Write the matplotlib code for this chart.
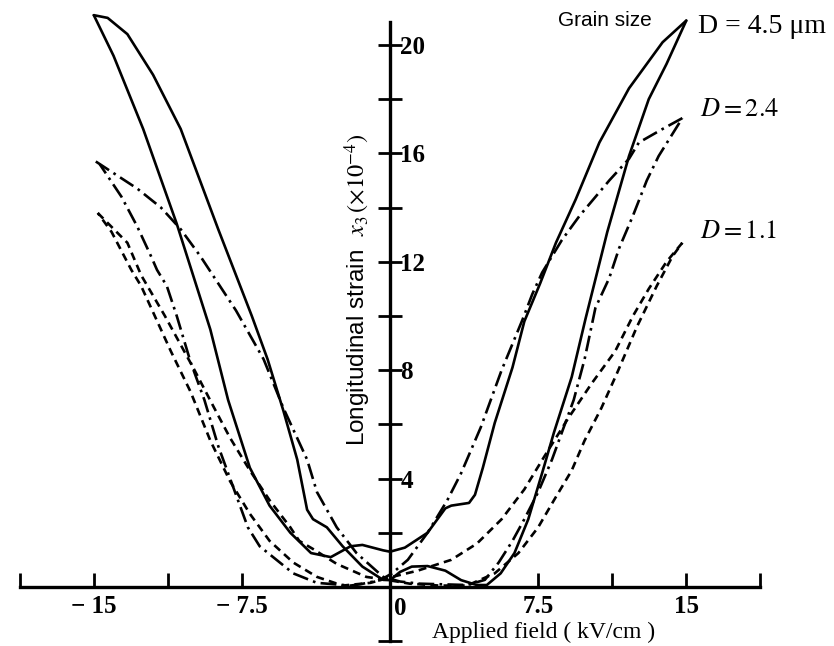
import matplotlib
matplotlib.use("Agg")
import matplotlib.pyplot as plt

plt.rcParams['font.family'] = ['Liberation Serif', 'DejaVu Serif']
plt.rcParams['mathtext.fontset'] = 'stix'

# D = 4.5 um (solid): field going down (+15 -> -15) and going up (-15 -> +15)
d45_down_x = [15.0, 13.8, 12.1, 10.6, 9.4, 8.4, 7.6, 6.8, 6.2, 5.3, 4.7, 4.3, 4.0, 3.1, 2.8, 1.9,
              0.75, 0.0, -0.35, -1.4, -2.0, -3.0, -4.0, -5.05, -6.1, -7.1, -8.2, -9.1, -10.8,
              -12.5, -14.0, -15.0]
d45_down_y = [20.9, 20.1, 18.4, 16.4, 14.3, 12.7, 11.2, 9.8, 8.1, 6.05, 4.4, 3.4, 3.1, 3.0, 2.9, 2.0,
              1.45, 1.3, 1.35, 1.55, 1.5, 1.1, 1.25, 2.0, 3.0, 4.4, 6.9, 9.5, 13.4,
              16.9, 19.6, 21.1]
d45_up_x = [-15.0, -14.3, -13.3, -12.0, -10.6, -8.7, -7.0, -6.2, -5.4, -4.7, -4.2, -3.9, -3.2, -2.4,
            -1.4, -0.35, 0.0, 0.5, 1.1, 1.9, 2.8, 3.6, 4.4, 4.9, 5.6, 6.3, 7.0, 7.7, 8.3, 9.2, 9.9,
            11.0, 12.1, 13.1, 14.0, 15.0]
d45_up_y = [21.1, 21.0, 20.4, 18.9, 16.9, 13.2, 10.0, 8.4, 6.5, 4.7, 2.85, 2.5, 2.2, 1.5,
            0.75, 0.26, 0.25, 0.55, 0.75, 0.77, 0.6, 0.25, 0.07, 0.07, 0.5, 1.25, 2.5, 4.2, 5.7, 7.75, 9.9,
            13.1, 15.9, 18.0, 19.3, 20.9]

# D = 2.4 (dash-dot)
d24_up_x = [-14.9, -12.8, -11.6, -10.6, -9.6, -7.8, -6.4, -5.4, -4.2, -3.7, -2.7, -1.7, -0.35, 0.5,
            1.5, 2.5, 3.9, 4.8, 5.5, 6.2, 6.8, 7.5, 8.2, 8.8, 9.3, 9.85, 10.4, 11.1, 11.6, 12.3,
            13.0, 13.6, 14.8]
d24_up_y = [15.7, 14.7, 14.0, 13.2, 12.2, 10.2, 8.4, 6.6, 4.7, 3.5, 2.2, 1.25, 0.37, 0.2,
            0.12, 0.1, 0.07, 0.26, 0.9, 1.7, 2.5, 3.5, 4.7, 5.9, 6.9, 8.4, 10.3, 11.4, 12.5, 13.7,
            15.0, 15.9, 17.3]
d24_down_x = [14.8, 13.8, 12.6, 12.1, 11.1, 9.6, 8.7, 7.7, 7.2, 6.7, 5.65, 4.6, 3.6, 2.9, 1.9, 0.9,
              0.1, -0.5, -1.5, -2.0, -3.7, -4.9, -6.6, -7.2, -7.7, -8.7, -9.4, -10.1, -10.8,
              -11.3, -11.8, -12.1, -12.8, -13.6, -14.7]
d24_down_y = [17.3, 16.9, 16.4, 15.8, 15.0, 13.7, 12.8, 11.6, 10.8, 9.85, 8.0, 5.9, 4.2, 3.2, 2.0, 1.0,
              0.5, 0.25, 0.1, 0.05, 0.15, 0.5, 1.5, 2.2, 3.2, 5.2, 6.9, 8.3, 10.0,
              11.1, 11.7, 12.2, 13.3, 14.4, 15.6]

# D = 1.1 (dashed)
d11_up_x = [-14.8, -13.3, -12.6, -11.4, -9.9, -8.9, -8.1, -7.1, -6.1, -5.05, -4.6, -3.9, -2.7,
            -1.2, -0.15, 1.0, 2.5, 3.9, 5.3, 6.5, 7.5, 8.3, 9.2, 9.85, 10.7, 11.5, 12.5, 13.5,
            14.3, 14.8]
d11_up_y = [13.8, 12.7, 11.5, 10.0, 8.0, 6.6, 5.5, 4.3, 3.2, 2.2, 1.7, 1.4, 0.85,
            0.37, 0.26, 0.12, 0.05, 0.05, 0.5, 1.25, 2.2, 3.2, 4.3, 5.4, 6.6, 7.9, 9.6, 11.1,
            12.2, 12.7]
d11_down_x = [14.8, 14.0, 13.1, 12.3, 11.4, 10.2, 9.0, 7.8, 6.8, 5.65, 4.4, 3.1, 1.4, 0.1, -1.0,
              -2.4, -3.7, -4.9, -6.1, -7.1, -8.1, -9.1, -10.1, -11.1, -12.1, -12.6, -13.1, -13.6,
              -14.1, -14.8]
d11_down_y = [12.7, 12.0, 11.0, 10.0, 8.7, 7.5, 6.2, 4.8, 3.6, 2.5, 1.6, 1.0, 0.6, 0.37, 0.15,
              0.05, 0.37, 0.9, 1.7, 2.7, 3.9, 5.4, 7.2, 8.7, 10.3, 11.1, 11.7, 12.4,
              13.1, 13.8]

x_major = [-15, -7.5, 7.5, 15]
x_major_labels = ['− 15', '− 7.5', '7.5', '15']
x_minor = [-18.75, -11.25, 11.25, 18.75]
y_major = [4, 8, 12, 16, 20]
y_minor = [-2, 2, 6, 10, 14, 18]

fig = plt.figure(figsize=(8.34, 6.46), dpi=100)
ax = fig.add_axes([0, 0, 1, 1])
ax.set_xlim(-19.75, 22.48)
ax.set_ylim(-2.18, 21.66)

lw = 1.9
for xs, ys in [(d45_down_x, d45_down_y), (d45_up_x, d45_up_y)]:
    ax.plot(xs, ys, color='black', lw=lw, solid_capstyle='round', solid_joinstyle='round')
for xs, ys in [(d24_down_x, d24_down_y), (d24_up_x, d24_up_y)]:
    ax.plot(xs, ys, color='black', lw=lw, dashes=[6, 2, 1, 2])
for xs, ys in [(d11_down_x, d11_down_y), (d11_up_x, d11_up_y)]:
    ax.plot(xs, ys, color='black', lw=lw, dashes=[3, 2])

# axes crossing at the origin
ax.spines['top'].set_visible(False)
ax.spines['left'].set_visible(False)
ax.spines['bottom'].set_position(('data', 0))
ax.spines['bottom'].set_bounds(-18.75, 18.75)
ax.spines['right'].set_position(('data', 0))
ax.spines['right'].set_bounds(-2, 20.85)
for s in ['bottom', 'right']:
    ax.spines[s].set_linewidth(2.4)
ax.yaxis.tick_right()
ax.xaxis.tick_bottom()

ax.set_xticks(x_major, labels=x_major_labels)
ax.set_xticks(x_minor, minor=True)
ax.set_yticks(y_major, labels=[str(v) for v in y_major])
ax.set_yticks(y_minor, minor=True)
ax.tick_params(axis='x', which='both', direction='in', length=10, width=2,
               labelsize=18, pad=6)
ax.tick_params(axis='y', which='both', direction='inout', length=17, width=2,
               labelsize=18, pad=-1)
for lab in ax.get_xticklabels() + ax.get_yticklabels():
    lab.set_fontweight('bold')
ax.text(0.2, -0.78, '0', fontsize=18, fontweight='bold', ha='left', va='center')

ax.text(7.75, -1.66, 'Applied field ( kV/cm )', fontsize=17, ha='center', va='center')
ax.text(-1.62, 10.96, r'Longitudinal strain  $x_3\,(\times10^{-4})$', rotation=90,
        fontsize=17.5, ha='center', va='center', family='Liberation Sans')

ax.text(10.9, 20.9, 'Grain size', fontsize=15, ha='center', va='center', family='Liberation Sans')
ax.text(15.6, 20.7, 'D = 4.5 μm', fontsize=20, ha='left', va='center')
ax.text(15.7, 17.6, r'$D=2.4$', fontsize=19, ha='left', va='center')
ax.text(15.7, 13.1, r'$D=1.1$', fontsize=19, ha='left', va='center')

fig.savefig('out.png', dpi=100)
